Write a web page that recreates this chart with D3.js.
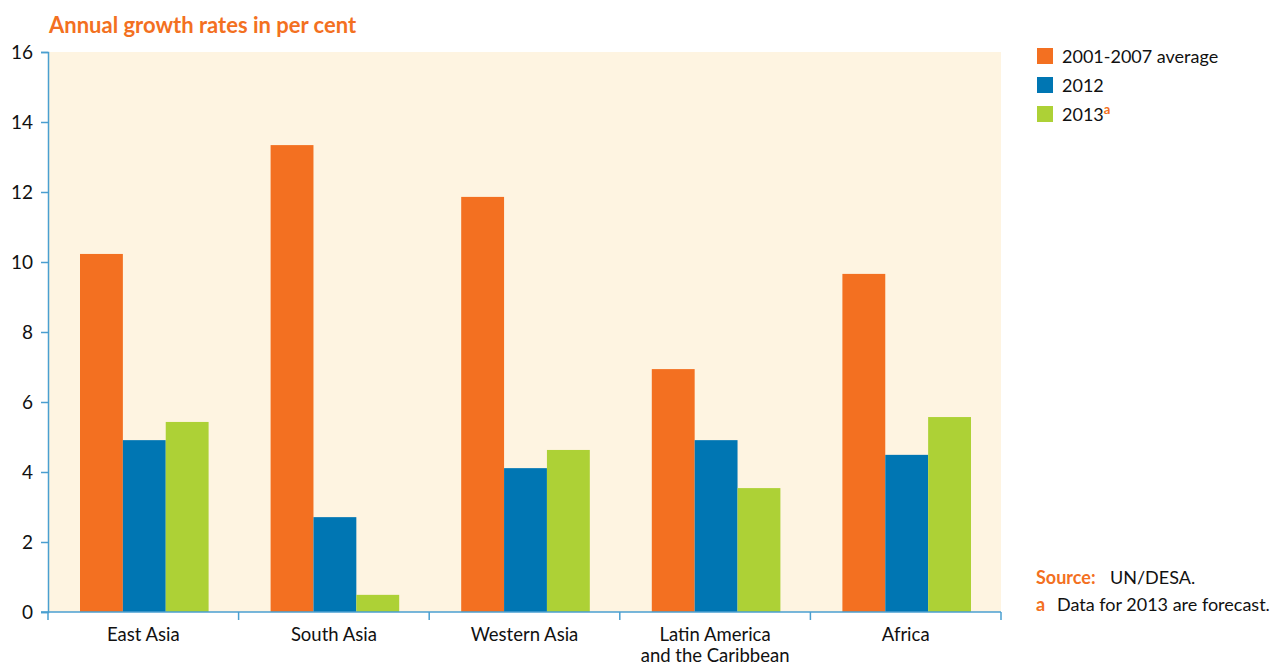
<!DOCTYPE html>
<html>
<head>
  <title>Annual growth rates</title>
  <script src="https://d3js.org/d3.v7.min.js"></script>
  <style>
    body { margin: 0; background: #fff; }
    text { font-family: Lato, "Open Sans", sans-serif; }
  </style>
</head>
<body>
  <div id="chart"></div>
  <script>
    // Data
    const regions = ["East Asia", "South Asia", "Western Asia", "Latin America|and the Caribbean", "Africa"];
    const seriesNames = ["2001-2007 average", "2012", "2013"];
    const avg0107 = [10.23, 13.34, 11.86, 6.94, 9.66];
    const y2012 = [4.91, 2.71, 4.11, 4.91, 4.49];
    const y2013 = [5.43, 0.49, 4.63, 3.54, 5.57];
    const yTicks = [0, 2, 4, 6, 8, 10, 12, 14, 16];

    const colors = ["#f37021", "#0076b3", "#add136"];
    const seriesValues = [avg0107, y2012, y2013];

    const width = 1273, height = 666;
    const margin = { top: 52, left: 48, right: 272, bottom: 54 };
    const plotW = width - margin.left - margin.right;
    const plotH = height - margin.top - margin.bottom;

    const svg = d3.select("#chart").append("svg")
      .attr("width", width)
      .attr("height", height);

    // Title
    svg.append("text")
      .attr("x", 49)
      .attr("y", 33)
      .attr("fill", "#f37021")
      .style("font-size", "22px")
      .style("font-weight", "bold")
      .text("Annual growth rates in per cent");

    const g = svg.append("g").attr("transform", `translate(${margin.left},${margin.top})`);

    // Background of the plot area
    g.append("rect")
      .attr("width", plotW)
      .attr("height", plotH)
      .attr("fill", "#fef4e1");

    const x0 = d3.scaleBand().domain(regions).range([0, plotW]).padding(0);
    const x1 = d3.scaleBand().domain(seriesNames).range([32, x0.bandwidth() - 30]).padding(0);
    const y = d3.scaleLinear().domain([0, 16]).range([plotH, 0]);

    // Bars
    seriesNames.forEach((s, si) => {
      g.selectAll(".bar" + si)
        .data(regions)
        .enter()
        .append("rect")
        .attr("x", d => x0(d) + x1(s))
        .attr("y", (d, i) => y(seriesValues[si][i]))
        .attr("width", x1.bandwidth())
        .attr("height", (d, i) => plotH - y(seriesValues[si][i]))
        .attr("fill", colors[si]);
    });

    const axisColor = "#4a9fd0";

    // Y axis
    const yAxis = g.append("g")
      .call(d3.axisLeft(y).tickValues(yTicks).tickSize(7).tickPadding(8));
    yAxis.select(".domain").attr("stroke", axisColor).attr("stroke-width", 1.5);
    yAxis.selectAll(".tick line").attr("stroke", axisColor).attr("stroke-width", 1.5);
    yAxis.selectAll(".tick text")
      .attr("fill", "#111")
      .style("font-size", "19px")
      .style("font-family", "Lato, 'Open Sans', sans-serif");

    // X axis baseline with ticks at band boundaries
    const xAxis = g.append("g").attr("transform", `translate(0,${plotH})`);
    xAxis.append("line")
      .attr("x1", -7).attr("x2", plotW)
      .attr("stroke", axisColor).attr("stroke-width", 1.5);
    const bounds = regions.map(d => x0(d)).concat([plotW]);
    xAxis.selectAll(".xtick")
      .data(bounds)
      .enter()
      .append("line")
      .attr("x1", d => d).attr("x2", d => d)
      .attr("y1", 0).attr("y2", 8)
      .attr("stroke", axisColor).attr("stroke-width", 1.5);

    const labels = xAxis.selectAll(".xlabel")
      .data(regions)
      .enter()
      .append("text")
      .attr("x", d => x0(d) + x0.bandwidth() / 2)
      .attr("y", 29)
      .attr("text-anchor", "middle")
      .attr("fill", "#111")
      .style("font-size", "18.5px");
    labels.each(function(d) {
      const parts = d.split("|");
      d3.select(this).selectAll("tspan")
        .data(parts)
        .enter()
        .append("tspan")
        .attr("x", x0(d) + x0.bandwidth() / 2)
        .attr("dy", (p, i) => i === 0 ? 0 : 21)
        .text(p => p);
    });

    // Legend
    const legend = svg.append("g").attr("transform", "translate(1037,48)");
    seriesNames.forEach((s, i) => {
      const row = legend.append("g").attr("transform", `translate(0,${i * 29})`);
      row.append("rect").attr("width", 16).attr("height", 16).attr("fill", colors[i]);
      const t = row.append("text")
        .attr("x", 25).attr("y", 15)
        .attr("fill", "#111")
        .style("font-size", "18px")
        .text(s);
      if (i === 2) {
        t.append("tspan")
          .attr("dy", -7)
          .attr("fill", "#f37021")
          .style("font-size", "13px")
          .style("font-weight", "bold")
          .text("a");
      }
    });

    // Source and note
    const src = svg.append("text").attr("x", 1036).attr("y", 584).style("font-size", "18px");
    src.append("tspan").attr("fill", "#f37021").style("font-weight", "bold").text("Source:");
    src.append("tspan").attr("x", 1110).attr("fill", "#111").text("UN/DESA.");

    const note = svg.append("text").attr("x", 1036).attr("y", 611).style("font-size", "18px");
    note.append("tspan").attr("fill", "#f37021").style("font-weight", "bold").text("a");
    note.append("tspan").attr("x", 1057).attr("fill", "#111").text("Data for 2013 are forecast.");
  </script>
</body>
</html>
